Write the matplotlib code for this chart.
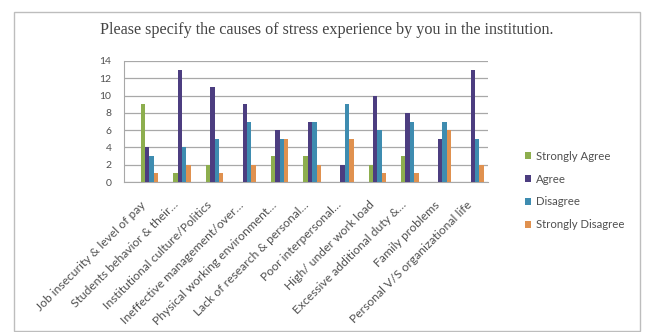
import matplotlib
matplotlib.use("Agg")
import matplotlib.pyplot as plt
import matplotlib.transforms as mtransforms
import numpy as np
from matplotlib.patches import Rectangle

categories = [
    "Job insecurity & level of pay",
    "Students behavior & their\u2026",
    "Institutional culture/Politics",
    "Ineffective management/over\u2026",
    "Physical working environment\u2026",
    "Lack of research & personal\u2026",
    "Poor interpersonal\u2026",
    "High/ under work load",
    "Excessive additional duty &\u2026",
    "Family problems",
    "Personal V/S organizational life",
]
strongly_agree = [9, 1, 2, 0, 3, 3, 0, 2, 3, 0, 0]
agree = [4, 13, 11, 9, 6, 7, 2, 10, 8, 5, 13]
disagree = [3, 4, 5, 7, 5, 7, 9, 6, 7, 7, 5]
strongly_disagree = [1, 2, 1, 2, 5, 2, 5, 1, 1, 6, 2]
series_names = ["Strongly Agree", "Agree", "Disagree", "Strongly Disagree"]
y_ticks = [0, 2, 4, 6, 8, 10, 12, 14]
title = "Please specify the causes of stress experience by you in the institution."

colors = ["#8DAE4E", "#4C3D80", "#3E8CB0", "#E0914F"]
text_color = "#505050"

fig = plt.figure(figsize=(6.46, 3.32), dpi=100)
fig.patch.set_facecolor("white")

# outer chart frame
fig.patches.append(Rectangle((14 / 646, 1 - 331 / 332), 626 / 646, 319 / 332,
                             transform=fig.transFigure, fill=False,
                             edgecolor="#bdbdbd", linewidth=1.0))

ax = fig.add_axes([124 / 646, 1 - 182 / 332, 364 / 646, 121 / 332])

x = np.arange(len(categories))
width = 0.135
data = [strongly_agree, agree, disagree, strongly_disagree]
for i, (vals, name, c) in enumerate(zip(data, series_names, colors)):
    ax.bar(x + (i - 1.5) * width, vals, width=width, color=c, label=name,
           zorder=3, linewidth=0)

ax.set_ylim(0, 14)
ax.set_xlim(-0.78, len(categories) - 1 + 0.4)
ax.set_yticks(y_ticks)
ax.set_yticklabels([str(t) for t in y_ticks], fontsize=7.5, color=text_color,
                   family="Lato")
ax.yaxis.grid(True, color="#a8a8a8", linewidth=0.9, zorder=0)
ax.tick_params(axis="y", length=0, pad=9)
ax.tick_params(axis="x", length=0, pad=0)
ax.set_xticks(x)
ax.set_xticklabels(categories, rotation=45, ha="right", va="center",
                   rotation_mode="anchor", fontsize=8.7, color=text_color,
                   family="Lato")
# nudge the slanted category labels down and to the left
shift = mtransforms.ScaledTranslation(-5 / 100, -21 / 100, fig.dpi_scale_trans)
for lbl in ax.get_xticklabels():
    lbl.set_transform(lbl.get_transform() + shift)
for side in ["top", "right"]:
    ax.spines[side].set_visible(False)
ax.spines["left"].set_color("#a8a8a8")
ax.spines["bottom"].set_color("#a8a8a8")

fig.text(327 / 646, 1 - 30 / 332, title, ha="center", va="center",
         fontsize=11.6, family="Liberation Serif", color="#444444")

fig.legend(loc="upper left", bbox_to_anchor=(520 / 646, 1 - 146 / 332),
           frameon=False, labelspacing=1.05, handlelength=0.6,
           handleheight=0.6, handletextpad=0.4, borderaxespad=0,
           prop={"family": "Lato", "size": 8.2}, labelcolor=text_color)

fig.savefig("out.png", dpi=100, facecolor="white")
